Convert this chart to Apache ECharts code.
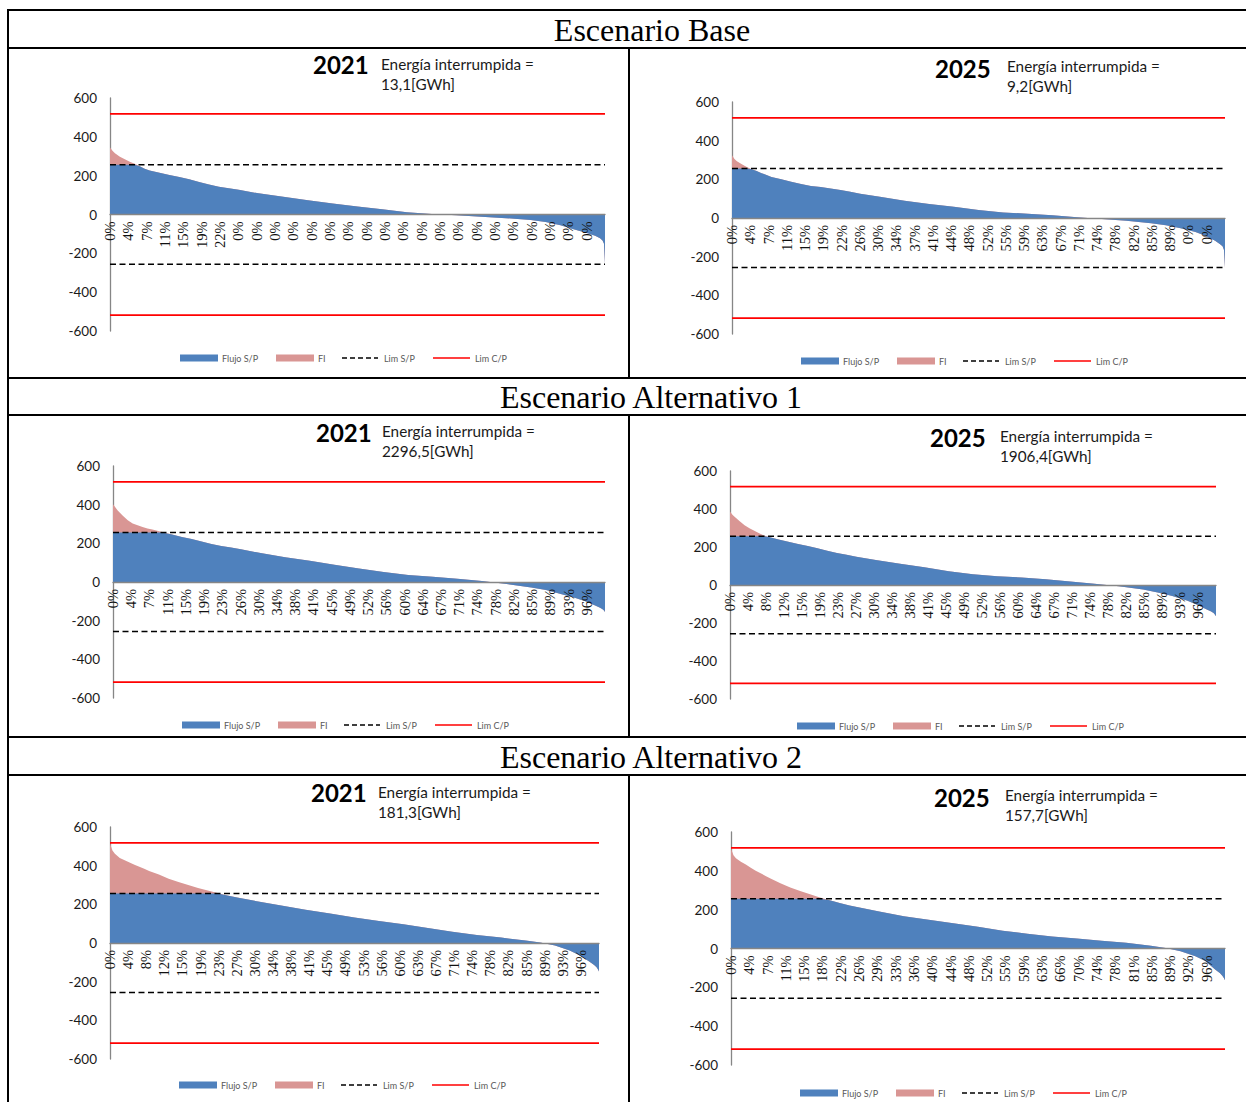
<!DOCTYPE html>
<html>
<head>
<meta charset="utf-8">
<title>Curvas de duración de flujo por escenario</title>
<script src="https://cdn.jsdelivr.net/npm/echarts@6/dist/echarts.min.js"></script>
<style>
  html, body { margin: 0; padding: 0; background: #ffffff; }
  #main { width: 1246px; height: 1102px; }
</style>
</head>
<body>
<div id="main"></div>
<script>
// ---------------------------------------------------------------------------
// Datos: curvas de duración del flujo por el tramo (MW), ordenadas de mayor a
// menor, muestreadas en los siguientes porcentajes de horas del año.
// ---------------------------------------------------------------------------
const durationPct = [0, 0.5, 1, 2, 3, 4, 5, 6, 7, 8,
  10, 12, 14, 16, 18, 20, 22, 24, 26,
  30, 35, 40, 45, 50, 55, 60, 65, 70, 75, 80, 85,
  88, 91, 94, 96, 98, 99, 99.5, 99.8, 100];

const base2021Flow = [345, 328, 315, 298, 284, 272, 261, 248, 235, 226,
  215, 204, 193, 181, 168, 155, 143, 135, 127,
  109, 91, 74, 57, 41, 27, 12, 3, -4, -12, -19, -28,
  -38, -55, -78, -93, -110, -122, -134, -150, -255];

const base2025Flow = [324, 305, 293, 278, 264, 252, 243, 232, 222, 212,
  200, 188, 176, 166, 160, 153, 145, 136, 126,
  110, 89, 73, 58, 42, 29, 22, 14, 4, -5, -14, -27,
  -38, -53, -73, -92, -118, -136, -146, -165, -258];

const alt1_2021Flow = [402, 385, 368, 343, 320, 303, 293, 285, 277, 271,
  258, 246, 233, 222, 210, 197, 186, 178, 169,
  150, 128, 110, 89, 70, 52, 36, 27, 17, 5, -10, -28,
  -42, -62, -83, -100, -121, -133, -141, -148, -155];

const alt1_2025Flow = [387, 370, 358, 335, 315, 299, 285, 272, 261, 252,
  240, 228, 216, 205, 193, 180, 169, 159, 149,
  131, 112, 93, 73, 56, 46, 40, 30, 19, 7, -6, -24,
  -39, -58, -81, -103, -127, -139, -148, -156, -164];

const alt2_2021Flow = [515, 478, 462, 440, 428, 416, 405, 394, 384, 373,
  354, 332, 316, 300, 285, 271, 258, 246, 235,
  216, 194, 172, 152, 132, 114, 97, 77, 58, 42, 28, 13,
  2, -13, -39, -63, -96, -114, -126, -137, -148];

const alt2_2025Flow = [515, 480, 465, 447, 432, 416, 400, 387, 374, 360,
  336, 314, 296, 279, 263, 248, 234, 222, 211,
  190, 166, 148, 130, 112, 92, 76, 62, 51, 40, 29, 14,
  3, -14, -40, -65, -108, -128, -142, -153, -163];

// Etiquetas del eje de duración (una cada 1/27 del año)
const base2021Labels = ['0%', '4%', '7%', '11%', '15%', '19%', '22%', '0%', '0%', '0%',
  '0%', '0%', '0%', '0%', '0%', '0%', '0%', '0%', '0%', '0%',
  '0%', '0%', '0%', '0%', '0%', '0%', '0%'];
const base2025Labels = ['0%', '4%', '7%', '11%', '15%', '19%', '22%', '26%', '30%', '34%',
  '37%', '41%', '44%', '48%', '52%', '55%', '59%', '63%', '67%', '71%',
  '74%', '78%', '82%', '85%', '89%', '0%', '0%'];
const alt1_2021Labels = ['0%', '4%', '7%', '11%', '15%', '19%', '23%', '26%', '30%', '34%',
  '38%', '41%', '45%', '49%', '52%', '56%', '60%', '64%', '67%', '71%',
  '74%', '78%', '82%', '85%', '89%', '93%', '96%'];
const alt1_2025Labels = ['0%', '4%', '8%', '12%', '15%', '19%', '23%', '27%', '30%', '34%',
  '38%', '41%', '45%', '49%', '52%', '56%', '60%', '64%', '67%', '71%',
  '74%', '78%', '82%', '85%', '89%', '93%', '96%'];
const alt2_2021Labels = ['0%', '4%', '8%', '12%', '15%', '19%', '23%', '27%', '30%', '34%',
  '38%', '41%', '45%', '49%', '53%', '56%', '60%', '63%', '67%', '71%',
  '74%', '78%', '82%', '85%', '89%', '93%', '96%'];
const alt2_2025Labels = ['0%', '4%', '7%', '11%', '15%', '18%', '22%', '26%', '29%', '33%',
  '36%', '40%', '44%', '48%', '52%', '55%', '59%', '63%', '66%', '70%',
  '74%', '78%', '81%', '85%', '89%', '92%', '96%'];

// Energía interrumpida [GWh] por escenario y año
const energyGWh = ['13,1', '9,2', '2296,5', '1906,4', '181,3', '157,7'];
const years = ['2021', '2025', '2021', '2025', '2021', '2025'];
const scenarios = ['Escenario Base', 'Escenario Alternativo 1', 'Escenario Alternativo 2'];

// Límites de transmisión (MW)
const limSP = 256;  // sin proyecto
const limCP = 518;  // con proyecto

// Rango del eje de flujo (MW)
const flowMin = -600;
const flowMax = 600;
const flowStep = 200;

// ---------------------------------------------------------------------------
// Presentación
// ---------------------------------------------------------------------------
const BLUE = '#4F81BD';
const PINK = '#D99694';
const RED = '#FF0000';
const AXIS_GREY = '#868686';
const STEP = 100 / 27;

const panels = [
  { flow: base2021Flow, labels: base2021Labels, box: [110, 605, 98, 331], yearAt: [313, 64], energyAt: [381, 64], legendAt: [180, 358] },
  { flow: base2025Flow, labels: base2025Labels, box: [732, 1225, 102, 334], yearAt: [935, 68], energyAt: [1007, 66], legendAt: [801, 361] },
  { flow: alt1_2021Flow, labels: alt1_2021Labels, box: [113, 605, 466, 698], yearAt: [316, 432], energyAt: [382, 431], legendAt: [182, 725] },
  { flow: alt1_2025Flow, labels: alt1_2025Labels, box: [730, 1216, 471, 699], yearAt: [930, 437], energyAt: [1000, 436], legendAt: [797, 726] },
  { flow: alt2_2021Flow, labels: alt2_2021Labels, box: [110, 599, 827, 1059], yearAt: [311, 792], energyAt: [378, 792], legendAt: [179, 1085] },
  { flow: alt2_2025Flow, labels: alt2_2025Labels, box: [731, 1225, 832, 1065], yearAt: [934, 797], energyAt: [1005, 795], legendAt: [800, 1093] }
];

const clamp = (v, lim) => Math.max(-lim, Math.min(lim, v));

const grid = [], xAxis = [], yAxis = [], series = [], graphic = [];

panels.forEach((pn, i) => {
  const [x0, x1, y0, y1] = pn.box;
  const h = y1 - y0;
  grid.push({ left: x0, top: y0, width: x1 - x0, height: h, containLabel: false });

  // The duration axis sits on the zero-flow line: shift it up from the grid bottom
  // by the share of the height that lies below zero.
  const zeroOffset = -h * (0 - flowMin) / (flowMax - flowMin);
  xAxis.push({
    type: 'value', gridIndex: i, min: 0, max: 100, interval: STEP, z: 6,
    position: 'bottom', offset: zeroOffset,
    axisLine: { show: true, onZero: false, lineStyle: { color: AXIS_GREY, width: 1.3 } },
    axisTick: { show: false },
    splitLine: { show: false },
    axisLabel: {
      rotate: 90, margin: 7, fontFamily: 'Liberation Serif', fontSize: 14.5, color: '#111',
      formatter: (v) => {
        const k = Math.round(v / STEP);
        return (Math.abs(v - k * STEP) < 0.01 && k < pn.labels.length) ? pn.labels[k] : '';
      }
    }
  });

  yAxis.push({
    type: 'value', gridIndex: i, min: flowMin, max: flowMax, interval: flowStep,
    axisLine: { show: true, onZero: false, lineStyle: { color: AXIS_GREY, width: 1.3 } },
    axisTick: { show: false },
    splitLine: { show: false },
    axisLabel: { margin: 13, fontFamily: 'Lato', fontSize: 13.5, color: '#1a1a1a' }
  });

  // Flujo total: la parte sobre el límite sin proyecto queda visible como FI
  series.push({
    name: 'FI', type: 'line', xAxisIndex: i, yAxisIndex: i, silent: true,
    data: durationPct.map((p, k) => [p, pn.flow[k]]),
    symbol: 'none', lineStyle: { width: 0 }, itemStyle: { color: PINK },
    areaStyle: { color: PINK, opacity: 1 }, z: 2
  });
  // Flujo sin proyecto, acotado al límite S/P
  series.push({
    name: 'Flujo S/P', type: 'line', xAxisIndex: i, yAxisIndex: i, silent: true,
    data: durationPct.map((p, k) => [p, clamp(pn.flow[k], limSP)]),
    symbol: 'none', lineStyle: { width: 0 }, itemStyle: { color: BLUE },
    areaStyle: { color: BLUE, opacity: 1 }, z: 3
  });
  [limSP, -limSP].forEach((lv) => {
    series.push({
      name: 'Lim S/P', type: 'line', xAxisIndex: i, yAxisIndex: i, silent: true,
      data: [[0, lv], [100, lv]], symbol: 'none',
      lineStyle: { color: '#000', width: 1.5, type: [6, 3.5] }, z: 4
    });
  });
  [limCP, -limCP].forEach((lv) => {
    series.push({
      name: 'Lim C/P', type: 'line', xAxisIndex: i, yAxisIndex: i, silent: true,
      data: [[0, lv], [100, lv]], symbol: 'none',
      lineStyle: { color: RED, width: 1.6 }, z: 4
    });
  });

  // Año y energía interrumpida
  graphic.push({
    type: 'text', x: pn.yearAt[0], y: pn.yearAt[1],
    style: { text: years[i], fontFamily: 'Lato', fontWeight: 'bold', fontSize: 24, fill: '#000', align: 'left', verticalAlign: 'middle' }
  });
  graphic.push({
    type: 'text', x: pn.energyAt[0], y: pn.energyAt[1] - 10,
    style: { text: 'Energía interrumpida =\n' + energyGWh[i] + '[GWh]', fontFamily: 'Lato', fontSize: 15.3, lineHeight: 20, fill: '#1a1a1a', align: 'left', verticalAlign: 'top' }
  });

  // Leyenda
  const [lx, ly] = pn.legendAt;
  const legendText = (dx, t) => ({
    type: 'text', x: lx + dx, y: ly,
    style: { text: t, fontFamily: 'Lato', fontSize: 9, fill: '#595959', align: 'left', verticalAlign: 'middle' }
  });
  graphic.push({ type: 'rect', shape: { x: lx, y: ly - 3.5, width: 38, height: 7 }, style: { fill: BLUE } });
  graphic.push(legendText(42, 'Flujo S/P'));
  graphic.push({ type: 'rect', shape: { x: lx + 96, y: ly - 3.5, width: 38, height: 7 }, style: { fill: PINK } });
  graphic.push(legendText(138, 'FI'));
  graphic.push({ type: 'line', shape: { x1: lx + 162, y1: ly, x2: lx + 198, y2: ly }, style: { stroke: '#000', lineWidth: 1.5, lineDash: [5, 3] } });
  graphic.push(legendText(204, 'Lim S/P'));
  graphic.push({ type: 'line', shape: { x1: lx + 253, y1: ly, x2: lx + 290, y2: ly }, style: { stroke: RED, lineWidth: 1.5 } });
  graphic.push(legendText(295, 'Lim C/P'));
});

// Marco de la tabla
const rule = (x1, y1, x2, y2) => ({ type: 'line', shape: { x1, y1, x2, y2 }, style: { stroke: '#000', lineWidth: 2 } });
[10, 48, 378, 415, 737, 775].forEach((y) => graphic.push(rule(8, y, 1246, y)));
graphic.push(rule(8, 9, 8, 1102));
[[48, 378], [415, 737], [775, 1102]].forEach(([a, b]) => graphic.push(rule(629, a, 629, b)));

// Encabezados de escenario
[[652, 30], [651, 397], [651, 757]].forEach(([x, y], k) => {
  graphic.push({
    type: 'text', x, y,
    style: { text: scenarios[k], fontFamily: 'Liberation Serif', fontSize: 32, fill: '#000', align: 'center', verticalAlign: 'middle' }
  });
});

const chart = echarts.init(document.getElementById('main'), null, { renderer: 'svg', width: 1246, height: 1102 });
chart.setOption({
  animation: false,
  backgroundColor: '#ffffff',
  grid, xAxis, yAxis, series, graphic
});
</script>
</body>
</html>
